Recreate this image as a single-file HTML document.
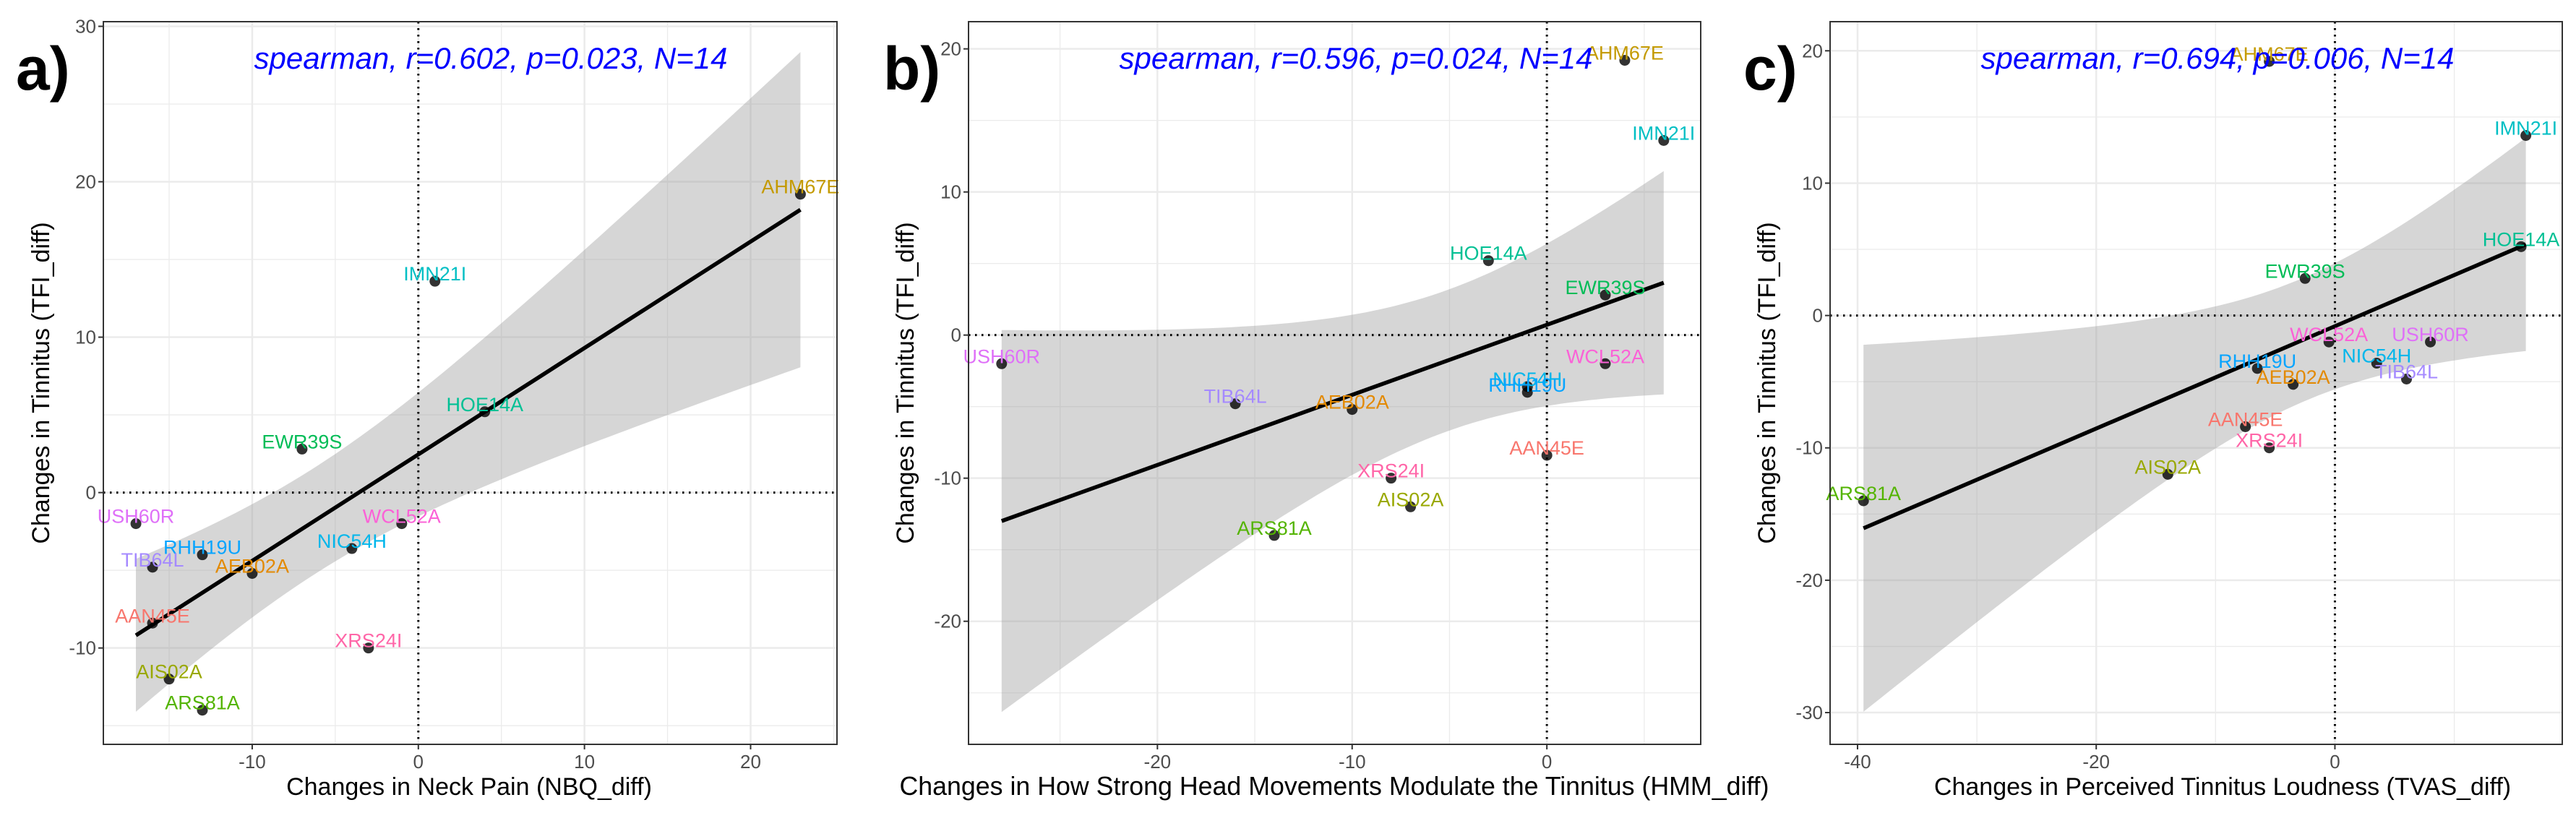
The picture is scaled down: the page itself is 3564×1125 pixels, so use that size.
<!DOCTYPE html>
<html><head><meta charset="utf-8"><style>
body{margin:0;background:#fff;}
svg{display:block;font-family:"Liberation Sans",sans-serif;}
</style></head><body>
<svg id="chart" width="3564" height="1125" viewBox="0 0 3564 1125" xmlns="http://www.w3.org/2000/svg"></svg>
<script>
const subjects = ["AAN45E","AEB02A","AHM67E","AIS02A","ARS81A","EWR39S","HOE14A","IMN21I","NIC54H","RHH19U","TIB64L","USH60R","WCL52A","XRS24I"];
const tfiDiff = [-8.4,-5.2,19.2,-12,-14,2.8,5.2,13.6,-3.6,-4,-4.8,-2,-2,-10];
const nbqDiff = [-16,-10,23,-15,-13,-7,4,1,-4,-13,-16,-17,-1,-3];
const hmmDiff = [0,-10,4,-7,-14,3,-3,6,-1,-1,-16,-28,3,-8];
const tvasDiff = [-7.5,-3.5,-5.5,-14,-39.5,-2.5,15.6,16,3.5,-6.5,6,8,-0.5,-5.5];
const subjectColors = ["#F8766D","#E38900","#C49A00","#99A800","#53B400","#00BC56","#00C094","#00BFC4","#00B6EB","#06A4FF","#A58AFF","#DF70F8","#FB61D7","#FF66A8"];
const yTicks = {a:[-10,0,10,20,30], b:[-20,-10,0,10,20], c:[-30,-20,-10,0,10,20]};
const xTicksA = [-10,0,10,20];
const xTicksB = [-20,-10,0];
const xTicksC = [-40,-20,0];
const statLabels = ["spearman, r=0.602, p=0.023, N=14","spearman, r=0.596, p=0.024, N=14","spearman, r=0.694, p=0.006, N=14"];

const NS="http://www.w3.org/2000/svg";
const svg=document.getElementById('chart');
function mk(tag,attrs,parent){const e=document.createElementNS(NS,tag);for(const k in attrs)e.setAttribute(k,attrs[k]);(parent||svg).appendChild(e);return e;}

const T0=30,B0=1030;
const panels=[
 {id:'a',x:nbqDiff,xt:xTicksA,xMin:-18.96,xMax:25.2,yMin:-16.2,yMax:30.3,L:143,R:1158,T:T0,B:B0,xminor:5,yminor:5,
  xTitle:"Changes in Neck Pain (NBQ_diff)",xTitleX:649,xTitleLen:0,yTitleX:57,stat:statLabels[0],statX:679,letter:"a)",letterX:22},
 {id:'b',x:hmmDiff,xt:xTicksB,xMin:-29.7,xMax:7.9,yMin:-28.6,yMax:21.9,L:1340,R:2353,T:T0,B:B0,xminor:5,yminor:5,
  xTitle:"Changes in How Strong Head Movements Modulate the Tinnitus (HMM_diff)",xTitleX:1846,xTitleLen:1203,yTitleX:1253,stat:statLabels[1],statX:1876,letter:"b)",letterX:1222},
 {id:'c',x:tvasDiff,xt:xTicksC,xMin:-42.3,xMax:19.05,yMin:-32.4,yMax:22.2,L:2532,R:3545,T:T0,B:B0,xminor:10,yminor:5,
  xTitle:"Changes in Perceived Tinnitus Loudness (TVAS_diff)",xTitleX:3075,xTitleLen:0,yTitleX:2445,stat:statLabels[2],statX:3068,letter:"c)",letterX:2412}
];

panels.forEach((p,pi)=>{
  const g=mk('g',{});
  
  
  const sx=v=>p.L+(v-p.xMin)/(p.xMax-p.xMin)*(p.R-p.L);
  const sy=v=>p.B-(v-p.yMin)/(p.yMax-p.yMin)*(p.B-p.T);
  const grid=mk('g',{},g);
  
  
  for(let v=Math.ceil(p.xMin/p.xminor)*p.xminor; v<=p.xMax; v+=p.xminor){
    const major=p.xt.includes(v)||(v%(p.xminor*2)===0);
    mk('line',{x1:sx(v),x2:sx(v),y1:p.T,y2:p.B,stroke:'#ebebeb','stroke-width':major?2.5:1.3},grid);
  }
  for(let v=Math.ceil(p.yMin/p.yminor)*p.yminor; v<=p.yMax; v+=p.yminor){
    const major=(v%10===0);
    mk('line',{x1:p.L,x2:p.R,y1:sy(v),y2:sy(v),stroke:'#ebebeb','stroke-width':major?2.5:1.3},grid);
  }
  const xs=p.x, ys=tfiDiff, n=xs.length;
  const mx=xs.reduce((a,b)=>a+b,0)/n, my=ys.reduce((a,b)=>a+b,0)/n;
  let sxx=0,sxy=0; for(let i=0;i<n;i++){sxx+=(xs[i]-mx)**2;sxy+=(xs[i]-mx)*(ys[i]-my);}
  const b1=sxy/sxx,b0=my-b1*mx;
  let sse=0; for(let i=0;i<n;i++){sse+=(ys[i]-b0-b1*xs[i])**2;}
  const s=Math.sqrt(sse/(n-2)), t=2.1788;
  const x0=Math.min(...xs), x1=Math.max(...xs);
  const up=[],lo=[];
  for(let k=0;k<=80;k++){const xv=x0+(x1-x0)*k/80;const f=b0+b1*xv;const se=s*Math.sqrt(1/n+(xv-mx)**2/sxx);
    up.push(sx(xv).toFixed(1)+','+sy(f+t*se).toFixed(1));lo.unshift(sx(xv).toFixed(1)+','+sy(f-t*se).toFixed(1));}
  const band=mk('polygon',{points:up.concat(lo).join(' '),fill:'#999999','fill-opacity':0.4},g);
  
  
  const zx=mk('line',{x1:sx(0),x2:sx(0),y1:p.T,y2:p.B,stroke:'#000','stroke-width':3,'stroke-dasharray':'2.5 6.5'},g);
  
  
  const zy=mk('line',{x1:p.L,x2:p.R,y1:sy(0),y2:sy(0),stroke:'#000','stroke-width':3,'stroke-dasharray':'2.5 6.5'},g);
  
  
  const rl=mk('line',{x1:sx(x0),y1:sy(b0+b1*x0),x2:sx(x1),y2:sy(b0+b1*x1),stroke:'#000','stroke-width':5.5},g);
  
  
  for(let i=0;i<n;i++){
    const c=mk('circle',{cx:sx(xs[i]),cy:sy(ys[i]),r:7.5,fill:'#000','fill-opacity':0.8},g);
    
    
  }
  for(let i=0;i<n;i++){
    const tx=mk('text',{x:sx(xs[i]),y:sy(ys[i])-1,'text-anchor':'middle','font-size':27,fill:subjectColors[i]},g);
    tx.textContent=subjects[i];
    
    
  }
  const br=mk('rect',{x:p.L,y:p.T,width:p.R-p.L,height:p.B-p.T,fill:'none',stroke:'#333','stroke-width':2},g);
  
  
  p.xt.forEach(v=>{
    mk('line',{x1:sx(v),x2:sx(v),y1:p.B,y2:p.B+7,stroke:'#333','stroke-width':2},g);
    const t2=mk('text',{x:sx(v),y:p.B+33,'text-anchor':'middle','font-size':26,fill:'#4d4d4d'},g);
    t2.textContent=v;
    
    
  });
  yTicks[p.id].forEach(v=>{
    mk('line',{x1:p.L-7,x2:p.L,y1:sy(v),y2:sy(v),stroke:'#333','stroke-width':2},g);
    const t2=mk('text',{x:p.L-10,y:sy(v)+9,'text-anchor':'end','font-size':26,fill:'#4d4d4d'},g);
    t2.textContent=v;
    
    
  });
  const xattrs={x:p.xTitleX,y:1100,'text-anchor':'middle','font-size':p.xTitleLen?36:34,fill:'#000'};
  if(p.xTitleLen){xattrs.textLength=p.xTitleLen;xattrs.lengthAdjust='spacingAndGlyphs';}
  const xt=mk('text',xattrs,g);
  xt.textContent=p.xTitle;
  
  
  const yt=mk('text',{x:0,y:0,'text-anchor':'middle','font-size':34,fill:'#000',transform:`translate(${p.yTitleX+11},530) rotate(-90)`},g);
  yt.textContent="Changes in Tinnitus (TFI_diff)";
  
  
  const st=mk('text',{x:p.statX,y:95,'text-anchor':'middle','font-size':42,'font-style':'italic',fill:'#0000ff'},g);
  st.textContent=p.stat;
  
  
  const lt=mk('text',{x:p.letterX,y:124,'font-size':84,'font-weight':'bold',fill:'#000'},g);
  lt.textContent=p.letter;
  
  
});
</script>
</body></html>
